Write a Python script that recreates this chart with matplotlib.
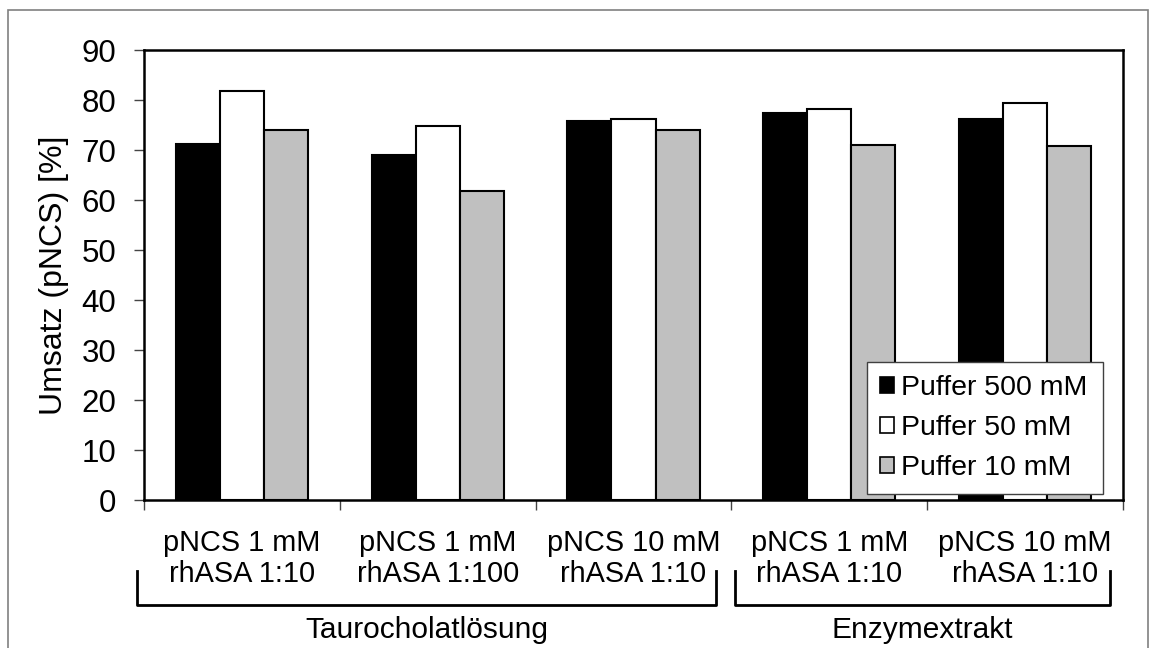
import matplotlib
matplotlib.use("Agg")
import matplotlib.pyplot as plt
from matplotlib.patches import Rectangle, Patch
from matplotlib.lines import Line2D
import matplotlib.transforms as mtransforms
import numpy as np

plt.rcParams['font.family'] = ['Liberation Sans', 'DejaVu Sans']

categories_line1 = ["pNCS 1 mM", "pNCS 1 mM", "pNCS 10 mM", "pNCS 1 mM", "pNCS 10 mM"]
categories_line2 = ["rhASA 1:10", "rhASA 1:100", "rhASA 1:10", "rhASA 1:10", "rhASA 1:10"]
groups = ["Taurocholatlösung", "Enzymextrakt"]
series_names = ["Puffer 500 mM", "Puffer 50 mM", "Puffer 10 mM"]
puffer_500 = [71.2, 69.1, 75.8, 77.4, 76.2]
puffer_50 = [81.9, 74.9, 76.3, 78.2, 79.4]
puffer_10 = [74.1, 61.9, 74.0, 71.0, 70.9]
colors = ["#000000", "#ffffff", "#c0c0c0"]

fig = plt.figure(figsize=(11.5, 6.48), dpi=100)
ax = fig.add_axes([144/1150, 1-500/648, (1123-144)/1150, 450/648])

x = np.arange(len(categories_line1))
w = 0.225
for i, (vals, c, name) in enumerate(zip([puffer_500, puffer_50, puffer_10], colors, series_names)):
    ax.bar(x + (i-1)*w, vals, width=w, color=c, edgecolor="black", linewidth=1.5, label=name, zorder=2)

ax.set_xlim(-0.5, len(categories_line1)-0.5)
ax.set_ylim(0, 90)
ax.set_yticks(np.arange(0, 91, 10))
ax.tick_params(axis='y', labelsize=22.5, length=7, width=1, direction='out', pad=13, color='#444444')
ax.set_xticks(np.arange(-0.5, len(categories_line1), 1.0))
ax.set_xticklabels([])
ax.tick_params(axis='x', length=7, width=1, direction='out', color='#444444')
for s in ax.spines.values():
    s.set_linewidth(1.8)
ax.set_ylabel("Umsatz (pNCS) [%]", fontsize=23, labelpad=9)

trans = mtransforms.blended_transform_factory(ax.transData, ax.transAxes)
for xi, l1, l2 in zip(x, categories_line1, categories_line2):
    ax.text(xi, (500-543)/450, l1, transform=trans, ha='center', va='center', fontsize=20.8)
    ax.text(xi, (500-574)/450, l2, transform=trans, ha='center', va='center', fontsize=20.8)

# brackets
def bracket(x0, x1, label):
    ytop = (500-571)/450
    ybot = (500-605)/450
    line = Line2D([x0, x0, x1, x1], [ytop, ybot, ybot, ytop], transform=trans,
                  color='black', linewidth=2, clip_on=False)
    ax.add_line(line)
    ax.text((x0+x1)/2, (500-630)/450, label, transform=trans, ha='center', va='center', fontsize=21.5)

bracket(-0.536, 2.421, groups[0])
bracket(2.518, 4.434, groups[1])

handles = [Patch(facecolor=c, edgecolor='black', linewidth=1.2) for c in colors]
leg = ax.legend(handles, series_names, loc='lower left', bbox_to_anchor=(0.7385, 0.013, 0.2415, 0.305),
                mode='expand', fontsize=20.5, frameon=True, fancybox=False, edgecolor='#404040',
                framealpha=1.0, handlelength=0.5, handleheight=0.5, handletextpad=0.25, labelspacing=0.5,
                borderpad=0.45, borderaxespad=0)
leg.get_frame().set_linewidth(1.0)
leg.set_zorder(5)

# outer frame
fig.patches.append(Rectangle((8/1150, -0.01), (1148-8)/1150, 1-10/648+0.01, transform=fig.transFigure,
                             fill=False, edgecolor='#808080', linewidth=1.2))

fig.savefig("out.png", dpi=100)
